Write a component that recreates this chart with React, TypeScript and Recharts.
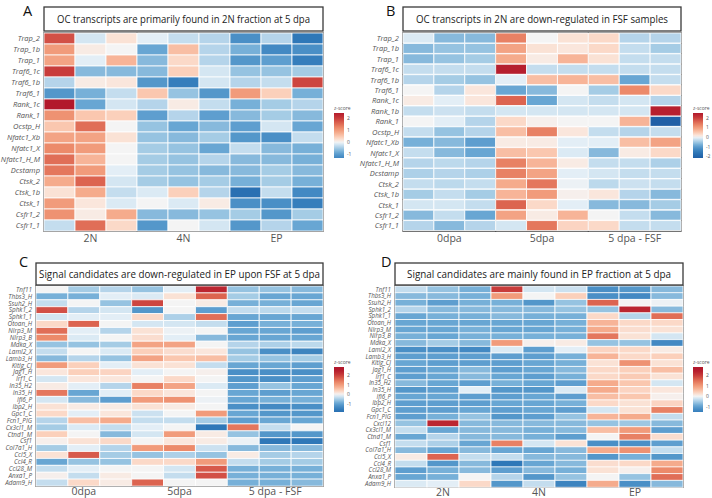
import React from "react";
import { BarChart, Bar, Cell, XAxis, YAxis, ReferenceArea } from "recharts";

const OC_GENES = [
  "Trap_2", "Trap_1b", "Trap_1", "Traf6_1c", "Traf6_1b", "Traf6_1", "Rank_1c", "Rank_1",
  "Ocstp_H", "Nfatc1_Xb", "Nfatc1_X", "Nfatc1_H_M", "Dcstamp", "Ctsk_2", "Ctsk_1b",
  "Ctsk_1", "Csfr1_2", "Csfr1_1",
];
const OC_GENES_B = [
  "Trap_2", "Trap_1b", "Trap_1", "Traf6_1c", "Traf6_1b", "Traf6_1", "Rank_1c", "Rank_1b",
  "Rank_1", "Ocstp_H", "Nfatc1_Xb", "Nfatc1_X", "Nfatc1_H_M", "Dcstamp", "Ctsk_2",
  "Ctsk_1b", "Ctsk_1", "Csfr1_2", "Csfr1_1",
];
const SIG_GENES_C = [
  "Tnf11", "Thbs3_H", "Ssuh2_H", "Sphk1_2", "Sphk1_1", "Otoan_H", "Nlrp3_M", "Nlrp3_B",
  "Mdka_X", "Laml2_X", "Lamb3_H", "Kitlg_CJ", "Jag1_H", "Irf1_C", "In35_H2", "In35_H",
  "Ifi6_P", "Ibp2_H", "Gpc1_C", "Fcn1_PIG", "Cx3cl1_M", "Ctnd1_M", "Csf1", "Col7a1_H",
  "Ccl5_X", "Ccl4_R", "Ccl28_M", "Anxa1_P", "Adam9_H",
];
const SIG_GENES_D = [
  "Tnf11", "Thbs3_H", "Ssuh2_H", "Sphk1_2", "Sphk1_1", "Otoan_H", "Nlrp3_M", "Nlrp3_B",
  "Mdka_X", "Laml2_X", "Lamb3_H", "Kitlg_CJ", "Jag1_H", "Irf1_C", "In35_H2", "In35_H",
  "Ifi6_P", "Ibp2_H", "Gpc1_C", "Fcn1_PIG", "Cxcl12", "Cx3cl1_M", "Ctnd1_M", "Csf1",
  "Col7a1_H", "Ccl5_X", "Ccl4_R", "Ccl28_M", "Anxa1_P", "Adam9_H",
];

const FRACTIONS = ["2N", "4N", "EP"];
const TIMEPOINTS = ["0dpa", "5dpa", "5 dpa - FSF"];

// z-scores, 9 samples per gene (3 per group)
const A_Z = [
  [1.8, -0.2, 0.2, -0.1, -0.3, -0.4, -1.2, -0.4, -1.6],
  [1.0, 0.1, 0.0, -0.9, 0.6, -0.4, -0.8, -1.3, -1.2],
  [0.9, -0.1, 0.7, -0.7, 0.3, -0.4, -1.1, -1.0, -1.5],
  [2.0, -0.7, -0.7, -0.7, 0.4, -0.2, -0.6, -0.6, -0.5],
  [-0.4, 0.1, 0.15, -1.1, -1.5, -0.2, -0.4, -0.3, 1.9],
  [-1.1, -0.8, -0.3, 0.5, -0.6, -1.1, 1.0, 0.4, -0.8],
  [2.6, -0.9, -0.2, -0.4, 0.1, -0.3, -0.8, -0.5, -0.4],
  [1.1, 0.5, 0.4, -1.0, -0.4, -1.0, -0.7, -0.5, -0.7],
  [0.5, 1.5, 0.0, -0.6, -0.9, -0.7, -1.0, -0.2, -0.9],
  [0.9, 0.9, 0.2, -0.6, -0.7, -0.5, -1.1, -1.2, -0.3],
  [1.2, 1.0, 0.0, -0.5, -0.6, -0.9, -0.3, -0.7, -0.8],
  [1.5, 0.7, 0.0, -0.5, -0.6, -0.4, -0.7, -0.7, -0.8],
  [1.4, 1.0, -0.1, -0.5, -0.6, -0.7, -0.7, -0.5, -0.7],
  [0.8, 1.6, -0.2, -0.5, -0.6, -0.5, -0.8, -0.5, -0.8],
  [0.2, 0.8, -0.3, -0.15, 0.4, -0.4, -1.8, -0.3, -1.3],
  [1.0, 0.15, -0.15, 0.0, -0.15, 0.1, -1.2, -1.2, -1.5],
  [1.1, 0.1, 0.8, -0.7, -0.7, -0.6, -0.5, -1.1, -0.5],
  [-0.3, 1.5, 0.3, -1.1, 0.0, -0.2, -1.1, -0.4, -0.9],
];

const B_Z = [
  [-0.15, -0.7, -0.7, 1.3, 0.0, 0.2, 0.3, -0.4, -0.4],
  [-0.7, -0.6, -0.6, 0.9, 0.2, 0.15, 0.3, -0.3, -0.5],
  [-0.7, -0.6, -0.5, 0.8, 0.1, 0.7, 0.2, -0.3, -0.3],
  [-0.3, -0.3, -0.3, 2.4, -0.3, -0.3, -0.3, -0.3, -0.3],
  [-0.4, -0.5, -0.6, -0.1, 0.6, 0.7, 0.6, -0.9, -0.3],
  [0.0, -0.4, 0.15, -0.9, -0.7, 0.0, -0.5, 1.2, 0.3],
  [0.1, -0.1, 0.15, 1.6, -0.9, -0.2, -0.3, -0.2, -0.4],
  [-0.3, -0.25, -0.3, -0.2, -0.2, -0.2, -0.2, -0.2, 2.4],
  [0.0, -0.1, -0.4, 0.3, 0.05, 0.0, 0.0, 0.7, -2.2],
  [-0.3, -0.6, -0.4, 0.6, 1.3, 0.15, -0.3, -0.4, -0.3],
  [-0.8, -0.7, -1.0, 0.1, 0.1, -0.1, -0.1, 0.6, 0.9],
  [-0.3, -0.7, -0.9, 0.6, 0.5, -0.15, -0.7, 0.1, 0.3],
  [-0.4, -0.35, -0.4, 1.3, 0.7, 0.1, -0.3, -0.3, -0.45],
  [-0.45, -0.4, -0.45, 1.3, 0.9, -0.1, -0.2, -0.3, -0.3],
  [-0.3, -0.35, -0.3, 0.8, 1.4, -0.05, -0.35, -0.25, -0.3],
  [-0.5, -0.3, -0.5, 0.7, 1.0, 0.05, 0.15, -0.4, -0.7],
  [-0.2, -0.2, -0.3, 1.6, 0.3, -0.1, -0.7, -0.7, -0.5],
  [-0.7, -0.3, -0.9, 0.9, 0.1, 0.7, 0.0, -0.3, -0.7],
  [-0.4, -0.7, -0.4, -0.2, 1.4, 0.35, 0.3, -0.3, -0.3],
];

const C_Z = [
  [0.0, -0.5, -0.4, -0.6, -0.1, 2.3, -0.6, -0.6, -0.7],
  [-0.8, -0.8, -0.1, -0.15, 0.2, 1.6, -0.5, -0.9, -0.9],
  [-0.3, 0.0, -0.6, 1.9, 0.0, 0.1, -0.8, -0.8, -0.9],
  [1.8, -0.4, -0.2, -1.1, 0.0, -1.0, -0.3, -0.35, -0.3],
  [-0.2, -0.1, -0.1, 0.3, -0.45, 1.5, -0.9, -0.9, -0.9],
  [0.3, 1.6, 0.0, -0.2, -0.2, -0.3, -1.0, -0.8, -0.8],
  [1.5, -0.1, -0.4, 0.2, -0.05, 0.0, -0.9, -0.9, -1.0],
  [1.2, -0.15, 0.0, 0.25, -0.1, -0.7, -0.9, -0.9, -0.9],
  [-0.6, -0.6, -0.5, 0.9, 0.9, 0.0, -0.4, -0.45, -0.35],
  [-0.3, 0.0, -0.15, 0.4, 0.25, 0.15, -0.6, -1.2, -1.4],
  [-0.7, -0.4, -0.6, 0.9, 0.5, 0.6, -0.5, -0.6, -0.5],
  [1.0, 0.4, -0.1, 0.2, 0.2, -0.3, -0.9, -0.9, -1.0],
  [0.15, 0.4, 0.35, -0.1, 0.0, 0.05, -1.2, -1.2, -1.2],
  [-0.2, 0.15, 0.15, 0.0, 0.3, 0.0, -1.1, -1.2, -1.0],
  [0.1, -0.1, -0.4, 1.3, 0.9, -0.15, -1.0, -0.6, -0.9],
  [1.4, -0.9, -0.1, 0.3, 0.15, 0.0, -0.9, -1.0, -0.9],
  [-0.2, -0.7, -1.0, 1.0, 1.1, -0.05, -0.9, -0.8, -0.8],
  [0.2, 0.1, 0.1, 0.2, 0.1, 0.0, -1.2, -1.3, -1.2],
  [0.3, -0.1, 0.15, -0.25, 0.0, 1.0, -0.9, -1.1, -1.1],
  [-0.4, 0.6, 0.8, -0.3, -0.3, -0.5, -1.0, -0.9, -0.9],
  [-0.5, -0.15, -0.3, -0.1, 0.0, -1.6, 1.4, -0.3, 0.0],
  [0.4, 0.0, -0.7, -0.2, 1.0, 0.1, -0.6, -1.1, -1.1],
  [0.05, 0.2, 0.3, 0.0, 0.15, 0.1, -0.05, -1.6, -1.6],
  [-0.5, -0.1, -0.4, 1.0, 1.2, -0.25, -0.7, -0.7, -0.7],
  [0.2, 1.7, -0.5, -0.6, -0.45, -0.6, 0.1, -0.5, -0.4],
  [-0.9, -0.6, -0.6, 0.3, 0.3, 1.0, -0.3, -0.5, -0.5],
  [-0.3, -0.1, 0.0, 0.0, -0.2, 1.7, -0.8, -0.8, -0.8],
  [0.05, -0.3, 0.1, 0.0, -0.3, 1.8, -0.8, -0.8, -0.8],
  [-0.3, 0.3, 0.1, 1.6, 0.0, 0.0, -0.8, -0.8, -0.7],
];

const D_Z = [
  [-0.3, -0.6, -0.8, 2.0, -0.2, -0.25, -1.2, -1.1, -0.7],
  [-0.7, -0.7, -0.8, 1.0, 0.0, 0.4, -1.2, -1.3, -0.7],
  [-0.8, -1.0, -0.8, -0.8, -1.1, -0.6, 1.6, 0.0, -0.05],
  [-0.4, -0.7, -0.7, -0.7, -0.7, -0.6, -0.6, 2.3, -0.7],
  [-0.9, -0.8, -0.8, -0.7, -0.8, -0.8, 0.3, -0.4, 1.5],
  [-0.9, -0.9, -0.9, -0.9, -0.9, -0.8, 0.7, 0.3, 0.3],
  [-0.9, -0.9, -0.8, -0.9, -0.9, -0.8, 0.8, 0.25, 0.2],
  [-0.8, -0.9, -0.8, -0.8, -0.8, -0.8, 1.4, 0.2, -0.2],
  [-0.7, -0.5, -0.7, 1.0, 0.05, 0.1, -0.6, -0.6, -1.3],
  [-1.2, -1.2, -1.3, -0.15, -1.0, -0.1, 0.35, 0.3, 0.1],
  [-1.0, -1.0, -1.0, -1.0, -1.0, -0.8, 0.7, 0.3, 0.4],
  [-0.9, -1.0, -1.0, -1.0, -0.9, -0.8, 0.2, 1.1, 0.2],
  [-1.0, -0.9, -0.7, -1.0, -0.9, -0.7, 0.3, 0.4, 0.6],
  [-1.0, -0.9, -0.7, -0.9, -1.0, -0.8, 0.3, 0.45, 0.2],
  [-0.7, -0.9, -1.0, -0.8, -0.9, -1.0, 0.8, 0.5, -0.2],
  [-1.1, -1.0, -0.1, -1.1, -1.1, -0.15, 0.8, 0.35, 0.15],
  [-0.9, -0.9, -1.0, -1.0, -0.9, -1.0, 0.6, 0.5, 0.05],
  [-1.0, -1.0, -1.0, -0.9, -0.9, -0.8, 0.3, 0.2, 0.35],
  [-1.0, -1.0, -0.9, -1.0, -0.9, -1.0, -0.2, 0.2, 1.3],
  [-1.0, -0.8, -0.6, -1.1, -1.0, -0.6, 0.7, 0.8, -0.3],
  [-0.6, 2.3, -0.7, -0.7, -0.7, -0.7, -0.6, -0.55, -0.7],
  [-0.3, -0.9, -0.7, -0.7, -0.8, -0.7, 0.6, 1.0, -1.0],
  [-0.9, -0.4, -0.7, -0.7, -0.8, -1.0, 0.0, 1.3, 0.25],
  [-0.3, -0.45, -0.9, 1.3, -0.2, 0.2, -1.2, -1.2, -1.0],
  [-0.7, -0.9, -0.7, -0.9, -0.9, -0.7, 0.8, 1.1, -0.3],
  [0.1, 1.6, -0.3, -0.3, -0.7, -0.7, -1.1, -0.8, -1.1],
  [-0.3, -1.1, -0.7, -1.6, -0.9, -0.7, 0.25, 0.3, 0.8],
  [-1.0, -0.8, -0.7, -1.0, -0.7, -0.8, 0.2, 0.05, 1.2],
  [-0.9, -0.8, 0.0, -0.4, -1.1, -0.6, 0.0, -0.6, 1.5],
  [-0.15, -0.1, 0.3, -1.1, -0.3, -1.4, 0.8, -1.2, -0.7],
];

const STOPS: [number, string][] = [
  [-2.2, "#1f5fa6"],
  [-1.6, "#2f78b8"],
  [-1.2, "#4a8fc6"],
  [-0.9, "#68a6d3"],
  [-0.6, "#96c3e1"],
  [-0.3, "#c4ddee"],
  [-0.1, "#e3eef6"],
  [0, "#f4f4f4"],
  [0.15, "#fae6dc"],
  [0.4, "#fbd0bb"],
  [0.8, "#f5ab8c"],
  [1.2, "#ec8a6a"],
  [1.6, "#dc6450"],
  [2.0, "#c83c3b"],
  [2.5, "#b2182b"],
];

function hex(c: string) {
  return [1, 3, 5].map((i) => parseInt(c.slice(i, i + 2), 16));
}

function zColor(v: number) {
  if (v <= STOPS[0][0]) return STOPS[0][1];
  for (let i = 1; i < STOPS.length; i++) {
    if (v <= STOPS[i][0]) {
      const [a, ca] = STOPS[i - 1];
      const [b, cb] = STOPS[i];
      const t = (v - a) / (b - a);
      const x = hex(ca);
      const y = hex(cb);
      const m = x.map((q, k) => Math.round(q + (y[k] - q) * t));
      return `rgb(${m[0]},${m[1]},${m[2]})`;
    }
  }
  return STOPS[STOPS.length - 1][1];
}

const FONT = "'Open Sans', 'DejaVu Sans', sans-serif";

function Heatmap({ genes, z, groups, left, top, width, height, margin, yWidth, labelSize, xHeight, tickGap }: any) {
  const cols = [0, 1, 2, 3, 4, 5, 6, 7, 8];
  const data = genes.map((g: string) => {
    const row: any = { gene: g };
    cols.forEach((j) => (row["c" + j] = 1));
    return row;
  });
  return (
    <div style={{ position: "absolute", left, top }}>
      <BarChart width={width} height={height} data={data} layout="vertical" margin={margin} barCategoryGap={0} barGap={0}>
        <XAxis
          type="number"
          domain={[0, 9]}
          ticks={[1.5, 4.5, 7.5]}
          tickFormatter={(v: number) => groups[Math.floor(v / 3)]}
          axisLine={false}
          tickLine={false}
          tickSize={tickGap}
          tickMargin={1}
          height={xHeight}
          interval={0}
          tick={{ fontSize: 10.5, fill: "#555", fontFamily: FONT }}
        />
        <YAxis
          type="category"
          dataKey="gene"
          width={yWidth}
          axisLine={false}
          tickLine={false}
          tickSize={0}
          tickMargin={4}
          interval={0}
          tick={{ fontSize: labelSize, fontStyle: "italic", fill: "#555", fontFamily: FONT }}
        />
        {cols.map((j) => (
          <Bar key={j} dataKey={"c" + j} stackId="h" isAnimationActive={false}>
            {z.map((r: number[], i: number) => (
              <Cell key={i} fill={zColor(r[j])} stroke="#fff" strokeWidth={0.8} />
            ))}
          </Bar>
        ))}
        {[0, 1, 2].map((k) => (
          <ReferenceArea key={k} x1={k * 3} x2={k * 3 + 3} fill="none" fillOpacity={0} stroke="#3a3a3a" strokeWidth={1.3} />
        ))}
      </BarChart>
    </div>
  );
}

function ZLegend({ x, y, min, max, ticks, id }: any) {
  const h = 45;
  const stops = [];
  for (let i = 0; i <= 20; i++) {
    const v = max - ((max - min) * i) / 20;
    stops.push(<stop key={i} offset={`${i * 5}%`} stopColor={zColor(v)} />);
  }
  return (
    <g>
      <defs>
        <linearGradient id={id} x1="0" y1="0" x2="0" y2="1">
          {stops}
        </linearGradient>
      </defs>
      <text x={x} y={y - 3} fontSize={5} fill="#555" fontFamily={FONT}>z-score</text>
      <rect x={x} y={y} width={10} height={h} fill={`url(#${id})`} />
      {ticks.map((t: number) => (
        <text key={t} x={x + 13} y={y + ((max - t) / (max - min)) * h + 2} fontSize={5} fill="#555" fontFamily={FONT}>
          {t}
        </text>
      ))}
    </g>
  );
}

function TitleBox({ x, y, w, h, text, textW }: any) {
  return (
    <g>
      <rect x={x} y={y} width={w} height={h} fill="#fff" stroke="#3a3a3a" strokeWidth={1.3} />
      <text
        x={x + w / 2}
        y={y + h / 2 + 3.7}
        textAnchor="middle"
        fontSize={10.5}
        fill="#222"
        fontFamily={FONT}
        textLength={textW}
        lengthAdjust="spacingAndGlyphs"
      >
        {text}
      </text>
    </g>
  );
}

export default function App() {
  return (
    <div style={{ position: "absolute", left: 0, top: 0, width: 712, height: 498, background: "#fff" }}>
      <Heatmap genes={OC_GENES} z={A_Z} groups={FRACTIONS} left={0} top={0} width={356} height={250}
        margin={{ top: 33, right: 33, bottom: 0, left: 0 }} yWidth={44} labelSize={7.5} xHeight={19} tickGap={3} />
      <Heatmap genes={OC_GENES_B} z={B_Z} groups={TIMEPOINTS} left={356} top={0} width={356} height={250}
        margin={{ top: 33, right: 31, bottom: 0, left: 0 }} yWidth={47} labelSize={7.5} xHeight={19} tickGap={3} />
      <Heatmap genes={SIG_GENES_C} z={C_Z} groups={TIMEPOINTS} left={0} top={250} width={356} height={248}
        margin={{ top: 36, right: 33, bottom: 0, left: 0 }} yWidth={36} labelSize={6.4} xHeight={12} tickGap={1} />
      <Heatmap genes={SIG_GENES_D} z={D_Z} groups={FRACTIONS} left={356} top={250} width={356} height={248}
        margin={{ top: 36, right: 29, bottom: 0, left: 0 }} yWidth={39} labelSize={6.2} xHeight={11} tickGap={1} />
      <svg width={712} height={498} style={{ position: "absolute", left: 0, top: 0, pointerEvents: "none" }}>
        <text x={23} y={15.5} fontSize={14.5} fill="#111" fontFamily={FONT}>A</text>
        <text x={386} y={15.5} fontSize={14.5} fill="#111" fontFamily={FONT}>B</text>
        <text x={19} y={267} fontSize={14.5} fill="#111" fontFamily={FONT}>C</text>
        <text x={381} y={267} fontSize={14.5} fill="#111" fontFamily={FONT}>D</text>
        <TitleBox x={44} y={7} w={279} h={24} text="OC transcripts are primarily found in 2N fraction at 5 dpa" textW={253} />
        <TitleBox x={403} y={7} w={278} h={24} text="OC transcripts in 2N are down-regulated in FSF samples" textW={252} />
        <TitleBox x={36} y={263} w={287} h={22} text="Signal candidates are down-regulated in EP upon FSF at 5 dpa" textW={281} />
        <TitleBox x={395} y={263} w={288} h={22} text="Signal candidates are mainly found in EP fraction at 5 dpa" textW={264} />
        <ZLegend id="gA" x={334} y={113} min={-1.35} max={2.45} ticks={[2, 1, 0, -1]} />
        <ZLegend id="gB" x={693} y={113} min={-2.2} max={2.5} ticks={[2, 1, 0, -1, -2]} />
        <ZLegend id="gC" x={334} y={367} min={-1.8} max={2.8} ticks={[2, 1, 0, -1]} />
        <ZLegend id="gD" x={693} y={367} min={-1.5} max={2.8} ticks={[2, 1, 0, -1]} />
      </svg>
    </div>
  );
}
